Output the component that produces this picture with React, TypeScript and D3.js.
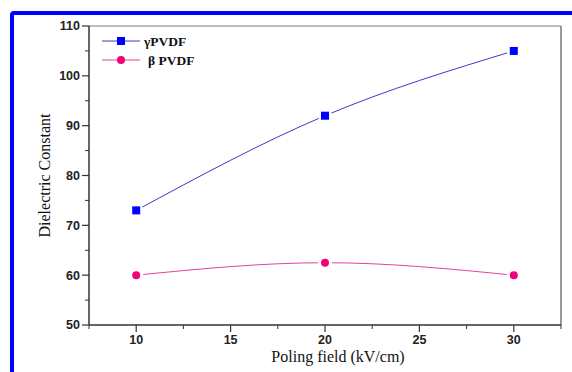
import React from "react";
import * as d3 from "d3";

const fields = [10, 20, 30];
const gammaPVDF = [73, 92, 105];
const betaPVDF = [60, 62.5, 60];
const xTicks = [10, 15, 20, 25, 30];
const xMinorTicks = [7.5, 12.5, 17.5, 22.5, 27.5, 32.5];
const yTicks = [50, 60, 70, 80, 90, 100, 110];
const yMinorTicks = [55, 65, 75, 85, 95, 105];
const seriesNames = ["\u03b3PVDF", "\u03b2 PVDF"];

const W = 572, H = 372;
const left = 89, right = 561, top = 26, bottom = 325;

export default function App() {
  const x = d3.scaleLinear().domain([7.5, 32.5]).range([left, right]);
  const y = d3.scaleLinear().domain([50, 110]).range([bottom, top]);
  const line = d3
    .line<[number, number]>()
    .x((d) => x(d[0]))
    .y((d) => y(d[1]))
    .curve(d3.curveNatural);
  const gPts = fields.map((f, i) => [f, gammaPVDF[i]] as [number, number]);
  const bPts = fields.map((f, i) => [f, betaPVDF[i]] as [number, number]);
  const tickFont = { fontFamily: "Arial, 'Liberation Sans', sans-serif", fontWeight: 700, fontSize: 12.5 };
  const serif = "'Times New Roman', 'Liberation Serif', serif";
  const blueLine = "#3a3ac8";
  const pinkLine = "#e0449a";
  const blueMark = "#0000ff";
  const pinkMark = "#f0007a";

  return (
    <svg width={W} height={H} style={{ position: "absolute", left: 0, top: 0, background: "#fff" }}>
      <rect x={0} y={0} width={W} height={H} fill="#fff" />
      {/* blue frame */}
      <rect x={12} y={13} width={W + 20} height={H + 20} rx={2} fill="none" stroke="#0000ff" strokeWidth={4} />
      {/* plot frame */}
      <line x1={left} x2={right} y1={top} y2={top} stroke="#777" strokeWidth={1} />
      <line x1={right} x2={right} y1={top} y2={bottom} stroke="#777" strokeWidth={1.5} />
      {/* curves */}
      <path d={line(gPts) || ""} fill="none" stroke={blueLine} strokeWidth={1} />
      <path d={line(bPts) || ""} fill="none" stroke={pinkLine} strokeWidth={1} />
      {/* gaps around markers */}
      {gPts.map((p, i) => (
        <circle key={"gg" + i} cx={x(p[0])} cy={y(p[1])} r={7} fill="#fff" />
      ))}
      {bPts.map((p, i) => (
        <circle key={"bg" + i} cx={x(p[0])} cy={y(p[1])} r={7} fill="#fff" />
      ))}
      {gPts.map((p, i) => (
        <rect key={"gm" + i} x={x(p[0]) - 4} y={y(p[1]) - 4} width={8} height={8} fill={blueMark} />
      ))}
      {bPts.map((p, i) => (
        <circle key={"bm" + i} cx={x(p[0])} cy={y(p[1])} r={4} fill={pinkMark} />
      ))}
      {/* axes */}
      <line x1={left} x2={left} y1={top} y2={bottom} stroke="#333" strokeWidth={1.5} />
      <line x1={left} x2={right} y1={bottom} y2={bottom} stroke="#333" strokeWidth={1.5} />
      {yTicks.map((t) => (
        <g key={"yt" + t}>
          <line x1={left - 7} x2={left} y1={y(t)} y2={y(t)} stroke="#333" strokeWidth={1.2} />
          <text x={left - 9} y={y(t)} dy="0.35em" textAnchor="end" {...tickFont} fill="#222">
            {t}
          </text>
        </g>
      ))}
      {yMinorTicks.map((t) => (
        <line key={"ym" + t} x1={left - 4} x2={left} y1={y(t)} y2={y(t)} stroke="#333" strokeWidth={1} />
      ))}
      {xTicks.map((t) => (
        <g key={"xt" + t}>
          <line x1={x(t)} x2={x(t)} y1={bottom} y2={bottom + 7} stroke="#333" strokeWidth={1.2} />
          <text x={x(t)} y={bottom + 19} textAnchor="middle" {...tickFont} fill="#222">
            {t}
          </text>
        </g>
      ))}
      {xMinorTicks.map((t) => (
        <line key={"xm" + t} x1={x(t)} x2={x(t)} y1={bottom} y2={bottom + 4} stroke="#333" strokeWidth={1} />
      ))}
      {/* axis titles */}
      <text x={338} y={362} textAnchor="middle" fontFamily={serif} fontSize={16} fill="#111">
        Poling field (kV/cm)
      </text>
      <text
        transform={`translate(50,${(top + bottom) / 2}) rotate(-90)`}
        textAnchor="middle"
        fontFamily={serif}
        fontSize={16}
        fill="#111"
      >
        Dielectric Constant
      </text>
      {/* legend */}
      <g>
        <line x1={102} x2={140} y1={41} y2={41} stroke={blueLine} strokeWidth={1} />
        <rect x={117} y={37} width={8} height={8} fill={blueMark} />
        <text x={144} y={41} dy="0.35em" fontFamily={serif} fontWeight={700} fontSize={13.5} fill="#111">
          {seriesNames[0]}
        </text>
        <line x1={102} x2={140} y1={60} y2={60} stroke={pinkLine} strokeWidth={1} />
        <circle cx={121} cy={60} r={4} fill={pinkMark} />
        <text x={148} y={60} dy="0.35em" fontFamily={serif} fontWeight={700} fontSize={13.5} fill="#111">
          {seriesNames[1]}
        </text>
      </g>
    </svg>
  );
}
